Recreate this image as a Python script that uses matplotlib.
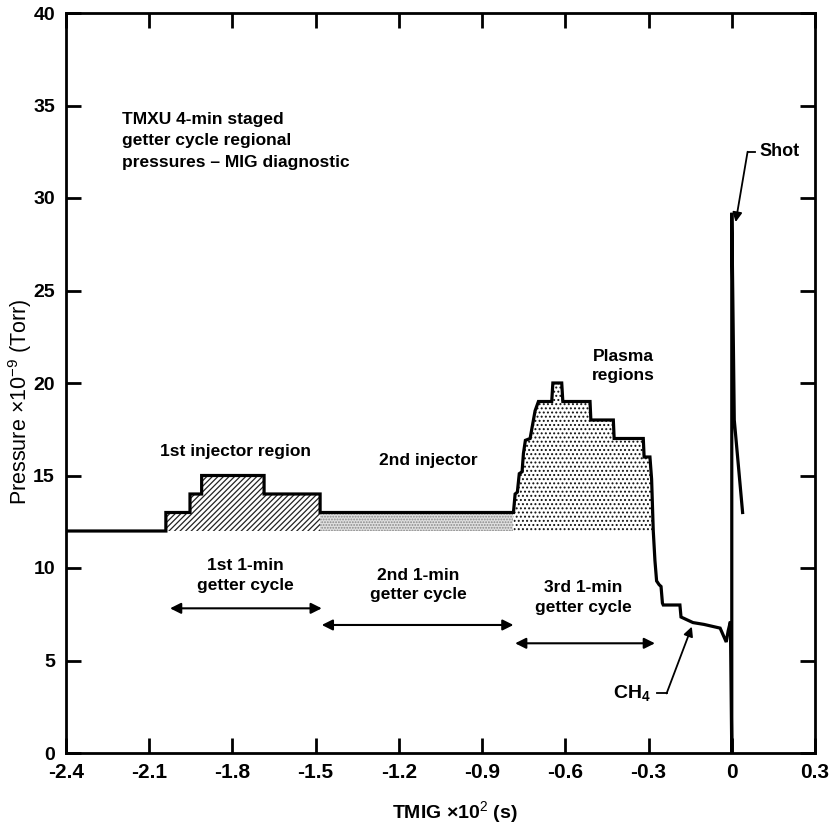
import matplotlib
matplotlib.use("Agg")
import matplotlib.pyplot as plt
import numpy as np

plt.rcParams['mathtext.fontset'] = 'custom'
plt.rcParams['mathtext.rm'] = 'Liberation Sans'
plt.rcParams['mathtext.it'] = 'Liberation Sans:italic'
plt.rcParams['mathtext.bf'] = 'Liberation Sans:bold'
plt.rcParams['hatch.linewidth'] = 0.9

# ---- data: MIG pressure trace (time x10^2 s, pressure x10^-9 Torr)
time = np.array([
    -2.40, -2.040, -2.040, -1.953, -1.953, -1.911, -1.911, -1.686, -1.686,
    -1.484, -1.484, -0.787, -0.781, -0.773, -0.766, -0.756, -0.751, -0.744,
    -0.727, -0.709, -0.697, -0.649, -0.645, -0.613, -0.609, -0.511, -0.508,
    -0.427, -0.424, -0.319, -0.316, -0.295, -0.289, -0.283, -0.277, -0.271,
    -0.262, -0.255, -0.250, -0.247, -0.187, -0.183, -0.140, -0.100, -0.042,
    -0.020, -0.013, -0.005, 0.000, 0.000, 0.009, 0.039])
pressure = np.array([
    12.0, 12.0, 13.0, 13.0, 14.0, 14.0, 15.0, 15.0, 14.0,
    14.0, 13.0, 13.0, 14.0, 14.1, 15.1, 15.2, 16.2, 16.9,
    17.0, 18.5, 19.0, 19.0, 20.0, 20.0, 19.0, 19.0, 18.0,
    18.0, 17.0, 17.0, 16.0, 16.0, 14.8, 12.0, 10.4, 9.3,
    9.1, 9.0, 8.1, 8.0, 8.0, 7.35, 7.05, 6.95, 6.75,
    6.0, 6.6, 7.1, 0.0, 29.2, 18.0, 13.0])

baseline = 12.0
# region boundaries (time)
region_1st_injector = (-2.040, -1.484)
region_2nd_injector = (-1.484, -0.787)
region_plasma = (-0.787, -0.283)

# getter cycle spans
cycle_spans = [(-2.025, -1.478), (-1.478, -0.787), (-0.781, -0.277)]
cycle_arrow_y = [7.82, 6.92, 5.93]
cycle_labels = ["1st 1-min\ngetter cycle", "2nd 1-min\ngetter cycle", "3rd 1-min\ngetter cycle"]
cycle_label_pos = [(-1.755, 9.6), (-1.13, 9.08), (-0.535, 8.4)]

xticks = [-2.4, -2.1, -1.8, -1.5, -1.2, -0.9, -0.6, -0.3, 0.0, 0.3]
xticklabels = ["-2.4", "-2.1", "-1.8", "-1.5", "-1.2", "-0.9", "-0.6", "-0.3", "0", "0.3"]
yticks = [0, 5, 10, 15, 20, 25, 30, 35, 40]

REG = ['Liberation Sans', 'DejaVu Sans']

fig = plt.figure(figsize=(8.34, 8.31), dpi=100)
ax = fig.add_axes([66/834, 1-753/831, (815-66)/834, (753-13)/831])

# fills
m1 = (time >= region_1st_injector[0]) & (time <= region_1st_injector[1])
ax.fill_between(time, baseline, pressure, where=m1, facecolor='white',
                edgecolor='#222222', hatch='//////', linewidth=0, interpolate=True)
m2 = (time >= region_2nd_injector[0]) & (time <= region_2nd_injector[1])
ax.fill_between(time, baseline, pressure, where=m2, facecolor='#e0e0e0',
                edgecolor='#888888', hatch='......', linewidth=0, interpolate=True)
m3 = (time >= region_plasma[0]) & (time <= region_plasma[1])
ax.fill_between(time, baseline, pressure, where=m3, facecolor='white',
                edgecolor='#111111', hatch='....', linewidth=0, interpolate=True)

ax.plot(time, pressure, color='black', lw=2.3, solid_joinstyle='miter')

ax.set_xlim(-2.4, 0.3)
ax.set_ylim(0, 40)
ax.set_xticks(xticks)
ax.set_xticklabels(xticklabels)
ax.set_yticks(yticks)
for s in ax.spines.values():
    s.set_linewidth(2.0)
ax.tick_params(axis='both', direction='in', length=11, width=2.0,
               top=True, right=True)
ax.tick_params(axis='x', pad=7)
ax.tick_params(axis='y', pad=8)
for lab in ax.get_xticklabels():
    lab.set_fontfamily(REG); lab.set_fontsize(15); lab.set_fontweight('bold')
for lab in ax.get_yticklabels():
    lab.set_fontfamily(REG); lab.set_fontsize(14); lab.set_fontweight('bold')

# axis labels
fig.text(20/834, 1-402/831, "Pressure \u00d710$^{-9}$ (Torr)", rotation=90,
         ha='center', va='center', fontsize=15.5, family=REG)
fig.text(455/834, 1-812/831, "TMIG \u00d710$^{2}$ (s)", ha='center', va='center',
         fontsize=14, family=REG, fontweight='bold')

# annotations
ax.text(-2.198, 33.1, "TMXU 4-min staged\ngetter cycle regional\npressures \u2013 MIG diagnostic",
        ha='left', va='center', fontsize=12.5, family=REG, fontweight='bold',
        linespacing=1.55)
ax.text(-1.79, 16.3, "1st injector region", ha='center', va='center',
        fontsize=12.5, family=REG, fontweight='bold')
ax.text(-1.095, 15.8, "2nd injector", ha='center', va='center',
        fontsize=12.5, family=REG, fontweight='bold')
ax.text(-0.391, 20.9, "Plasma\nregions", ha='center', va='center',
        fontsize=12.5, family=REG, fontweight='bold', linespacing=1.35)
for (a, b), yy, lab, (lx, ly) in zip(cycle_spans, cycle_arrow_y, cycle_labels, cycle_label_pos):
    ax.annotate("", xy=(b, yy), xytext=(a, yy),
                arrowprops=dict(arrowstyle='<|-|>', lw=1.5, color='black',
                                mutation_scale=16, shrinkA=0, shrinkB=0))
    ax.text(lx, ly, lab, ha='center', va='center', fontsize=12.5, family=REG,
            fontweight='bold', linespacing=1.4)

# CH4
ax.text(-0.36, 3.24, "CH$_{\\mathbf{4}}$", ha='center', va='center', fontsize=14,
        family=REG, fontweight='bold')
ax.plot([-0.271, -0.235], [3.22, 3.22], color='black', lw=1.3)
ax.annotate("", xy=(-0.144, 6.83), xytext=(-0.235, 3.22),
            arrowprops=dict(arrowstyle='-|>', lw=1.3, color='black',
                            mutation_scale=14, shrinkA=0, shrinkB=0))
# Shot
ax.text(0.10, 32.5, "Shot", ha='left', va='center', fontsize=13, family=REG,
        fontweight='bold')
ax.plot([0.057, 0.082], [32.5, 32.5], color='black', lw=1.3)
ax.annotate("", xy=(0.014, 28.7), xytext=(0.057, 32.5),
            arrowprops=dict(arrowstyle='-|>', lw=1.3, color='black',
                            mutation_scale=14, shrinkA=0, shrinkB=0))

fig.savefig("out.png", dpi=100)
